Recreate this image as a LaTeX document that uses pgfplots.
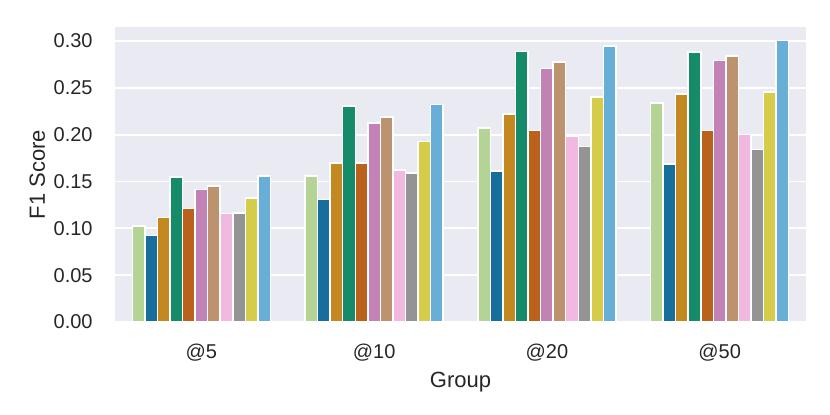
\documentclass[border=0pt]{standalone}
\usepackage{pgfplots}
\pgfplotsset{compat=1.18}
\usepackage{fontspec}
\setmainfont{Liberation Sans}
\definecolor{bg}{HTML}{EAEAF2}
\definecolor{txt}{HTML}{262626}
\definecolor{c1}{HTML}{B3D495}
\definecolor{c2}{HTML}{176D9C}
\definecolor{c3}{HTML}{C38820}
\definecolor{c4}{HTML}{158B6A}
\definecolor{c5}{HTML}{BA611B}
\definecolor{c6}{HTML}{C282B5}
\definecolor{c7}{HTML}{BD926E}
\definecolor{c8}{HTML}{F2B9E0}
\definecolor{c9}{HTML}{949494}
\definecolor{c10}{HTML}{D5CD4A}
\definecolor{c11}{HTML}{68AFD7}
\begin{document}
\begin{tikzpicture}
\path[use as bounding box] (-57.5pt,-46.5pt) rectangle (357.5pt,161pt);
\begin{axis}[
  at={(0,0)}, anchor=south west,
  width=345.5pt, height=147.5pt, scale only axis,
  xmin=-0.5, xmax=3.5, ymin=0, ymax=0.315,
  axis background/.style={fill=bg},
  axis line style={draw=none},
  tick style={draw=none},
  ymajorgrids, grid style={white, line width=0.9pt},
  xtick={0,1,2,3}, xticklabels={@5,@10,@20,@50},
  ytick={0,0.05,0.1,0.15,0.2,0.25,0.3},
  /pgf/number format/fixed, /pgf/number format/fixed zerofill, /pgf/number format/precision=2,
  /pgf/number format/assume math mode=true,
  tick label style={font=\fontsize{10}{12}\selectfont, text=txt},
  xticklabel style={anchor=base, inner sep=0pt, yshift=-14pt},
  yticklabel style={anchor=east, inner sep=0pt, xshift=-11pt},
  xlabel=Group, ylabel=F1 Score,
  label style={font=\fontsize{11}{13}\selectfont, text=txt},
  xlabel style={at={(axis description cs:0.5,0)}, anchor=base, inner sep=0pt, yshift=-33pt},
  ylabel style={at={(axis description cs:-0.1013,0.5)}, anchor=base, inner sep=0pt},
  ybar, bar width=0.072727,
  every axis plot/.append style={draw=white, line width=0.75pt},
]
\addplot[fill=c1, bar shift=-0.363636] coordinates {(0,0.1024) (1,0.1560) (2,0.2074) (3,0.2337)};
\addplot[fill=c2, bar shift=-0.290909] coordinates {(0,0.0926) (1,0.1309) (2,0.1614) (3,0.1688)};
\addplot[fill=c3, bar shift=-0.218182] coordinates {(0,0.1117) (1,0.1695) (2,0.2220) (3,0.2436)};
\addplot[fill=c4, bar shift=-0.145455] coordinates {(0,0.1550) (1,0.2305) (2,0.2890) (3,0.2883)};
\addplot[fill=c5, bar shift=-0.072727] coordinates {(0,0.1210) (1,0.1699) (2,0.2043) (3,0.2043)};
\addplot[fill=c6, bar shift=0] coordinates {(0,0.1415) (1,0.2124) (2,0.2706) (3,0.2790)};
\addplot[fill=c7, bar shift=0.072727] coordinates {(0,0.1450) (1,0.2188) (2,0.2777) (3,0.2840)};
\addplot[fill=c8, bar shift=0.145455] coordinates {(0,0.1160) (1,0.1624) (2,0.1979) (3,0.2000)};
\addplot[fill=c9, bar shift=0.218182] coordinates {(0,0.1163) (1,0.1592) (2,0.1876) (3,0.1840)};
\addplot[fill=c10, bar shift=0.290909] coordinates {(0,0.1323) (1,0.1926) (2,0.2401) (3,0.2457)};
\addplot[fill=c11, bar shift=0.363636] coordinates {(0,0.1557) (1,0.2323) (2,0.2947) (3,0.3003)};
\end{axis}
\end{tikzpicture}
\end{document}
